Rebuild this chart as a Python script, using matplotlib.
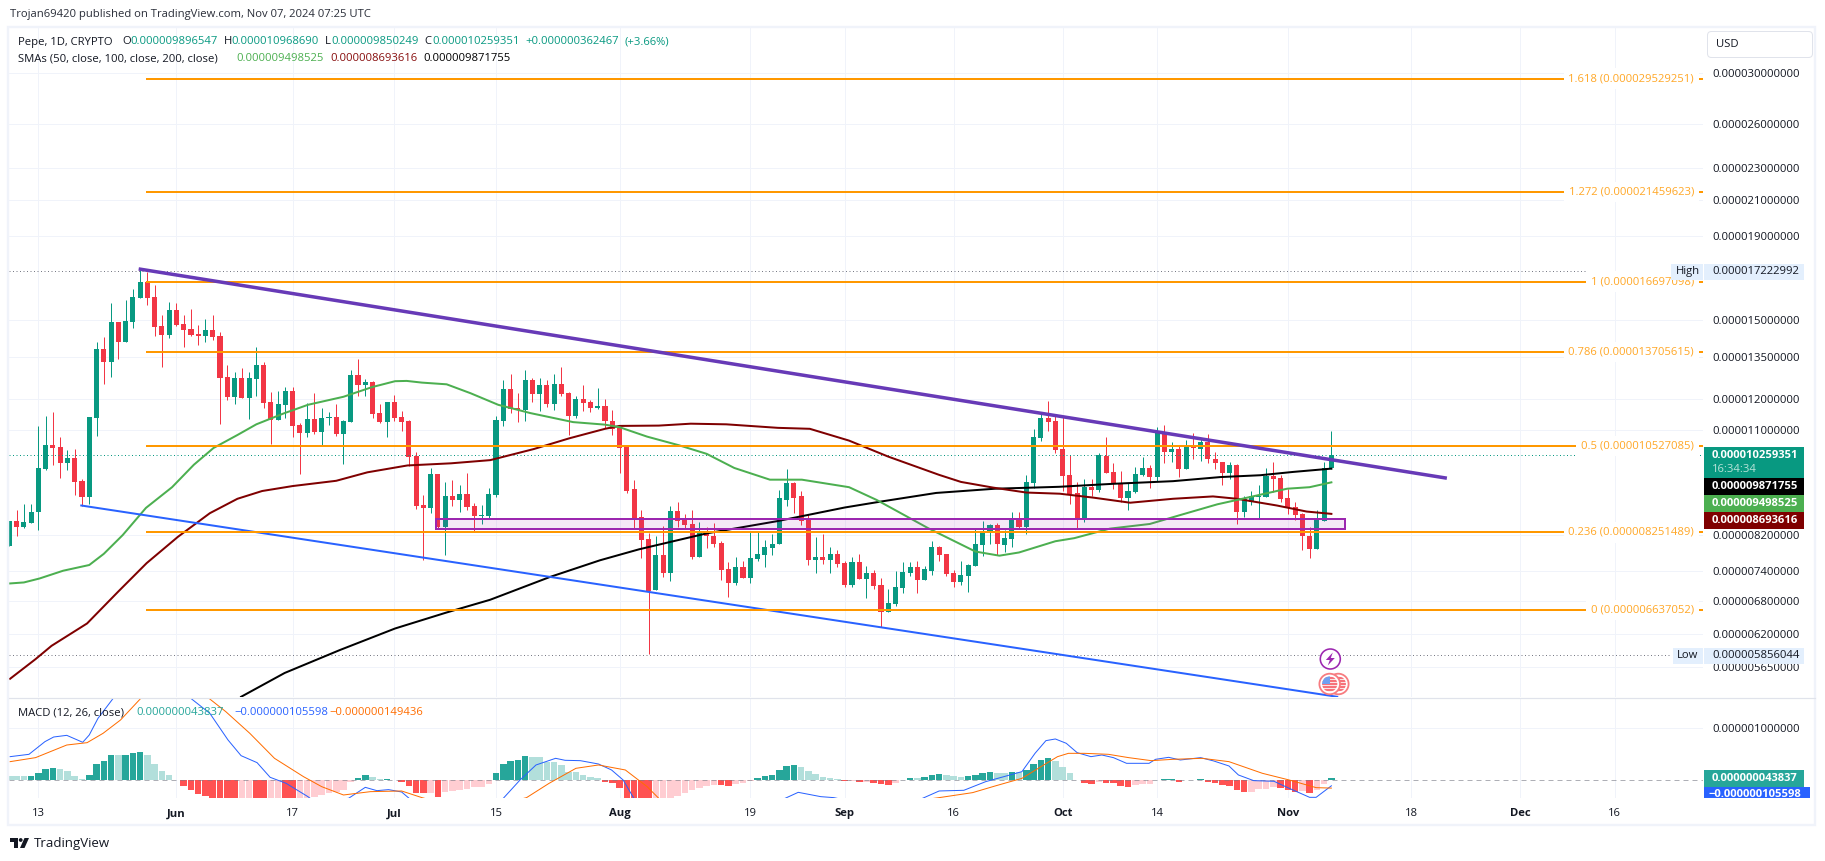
import matplotlib
matplotlib.use("Agg")
import matplotlib.pyplot as plt
import numpy as np
from matplotlib.patches import Rectangle, Circle, Polygon, FancyBboxPatch
from matplotlib.ticker import NullLocator, NullFormatter

plt.rcParams['font.family'] = ['Open Sans', 'DejaVu Sans']

# ---- data (prices in units of 1e-6 USD; days counted from 13 May 2024) ----
first_day = -4
opens = [7.94,8.52,8.38,8.47,8.73,9.87,10.55,10.50,10.02,10.17,9.54,9.12,11.38,13.82,13.33,14.91,14.09,14.91,15.96,16.69,
16.00,14.74,14.37,15.42,14.82,14.62,14.41,14.33,14.58,14.33,12.78,12.08,12.74,12.04,12.70,13.21,11.91,11.32,11.81,12.28,
11.16,10.91,11.35,10.94,11.39,11.41,10.88,11.26,12.85,12.49,12.60,11.54,11.26,11.91,11.41,11.29,10.24,8.91,8.84,9.73,
8.38,9.15,9.05,9.20,8.89,8.65,8.64,9.17,11.29,12.36,11.69,11.63,12.67,12.19,12.50,11.85,12.53,12.20,11.44,12.01,
11.91,11.71,11.78,11.30,11.05,10.50,9.31,8.62,8.10,7.02,7.74,7.36,8.76,8.54,8.44,7.70,8.23,8.18,8.00,7.44,
7.15,7.48,7.27,7.65,7.74,7.90,7.98,9.05,9.49,9.13,8.54,7.63,7.70,7.63,7.76,7.58,7.11,7.60,7.23,7.36,
7.11,6.60,6.75,7.06,7.36,7.48,7.21,7.41,7.92,7.76,7.36,7.17,7.30,7.51,7.96,8.23,8.42,7.97,8.10,8.55,
8.37,9.47,10.76,11.38,11.29,10.44,9.69,9.22,8.60,9.38,9.30,10.23,9.78,9.49,9.08,9.25,9.70,9.89,9.65,10.92,
10.35,10.43,9.86,10.49,10.43,10.65,10.15,10.05,9.76,9.97,8.73,8.99,9.12,9.12,9.67,9.62,9.09,8.86,8.68,8.18,
7.88,8.53,9.90]
closes = [8.52,8.39,8.50,8.74,9.90,10.55,10.47,10.02,10.17,9.52,9.12,11.41,13.82,13.33,14.91,14.09,14.95,16.00,16.69,15.96,
14.70,14.37,15.42,14.78,14.58,14.37,14.33,14.58,14.28,12.74,12.08,12.74,12.04,12.74,13.21,11.88,11.32,11.84,12.28,11.13,
10.91,11.35,10.94,11.38,11.41,10.88,11.29,12.85,12.49,12.60,11.51,11.26,11.91,11.38,11.26,10.20,8.89,8.84,9.73,8.38,
9.15,9.05,9.20,8.86,8.64,8.66,9.20,11.32,12.36,11.66,11.63,12.67,12.19,12.50,11.85,12.53,12.19,11.44,12.01,11.88,
11.71,11.78,11.27,11.02,10.47,9.28,8.60,8.07,7.00,7.74,7.36,8.76,8.51,8.42,7.70,8.23,8.16,7.98,7.42,7.15,
7.48,7.27,7.68,7.76,7.92,7.99,9.08,9.49,9.10,8.51,7.63,7.70,7.63,7.76,7.56,7.11,7.60,7.23,7.36,7.09,
6.60,6.76,7.07,7.39,7.48,7.21,7.44,7.92,7.74,7.34,7.17,7.32,7.53,7.98,8.26,8.43,7.98,8.13,8.55,8.37,
9.50,10.79,11.38,11.26,10.41,9.66,9.19,8.58,9.38,9.30,10.26,9.76,9.46,9.08,9.27,9.73,9.89,9.65,10.92,10.35,
10.43,9.86,10.49,10.46,10.65,10.13,10.03,9.76,9.97,8.73,9.07,9.15,9.15,9.67,9.59,9.07,8.83,8.66,8.16,7.88,
8.55,9.90,10.26]
highs = [8.52,8.79,8.94,8.94,11.13,11.45,11.57,10.79,10.39,10.43,9.59,11.41,14.09,14.28,15.72,14.91,15.87,16.35,17.25,17.17,
16.53,15.20,15.77,15.72,15.20,15.46,14.78,15.03,15.20,14.50,13.21,12.96,13.08,12.96,13.90,13.33,12.25,12.28,12.43,12.43,
11.23,11.88,12.21,11.70,11.57,11.84,11.32,13.03,13.44,12.71,12.64,11.84,11.91,12.15,11.61,11.32,10.35,9.17,9.90,9.73,
9.50,9.57,9.42,9.76,8.96,8.91,9.36,11.45,12.68,12.88,12.20,13.03,12.74,12.74,12.67,12.88,13.15,12.24,12.11,12.49,
11.98,12.39,12.01,11.63,11.11,10.56,9.55,8.78,8.25,8.18,8.40,8.88,9.00,8.70,8.78,8.49,8.37,8.47,8.05,7.59,
7.70,7.62,8.27,8.27,8.08,8.21,9.30,9.85,9.52,9.26,8.70,8.14,8.21,7.92,7.85,7.62,7.70,7.76,7.50,7.42,
7.27,7.03,7.40,7.59,7.59,7.62,7.50,8.05,7.94,7.76,7.42,7.62,7.55,8.35,8.51,8.44,8.47,8.30,8.73,8.75,
9.71,11.04,11.54,11.94,11.47,11.41,10.27,9.50,9.60,9.60,10.32,10.80,10.03,9.80,9.49,9.92,10.21,9.97,11.09,11.16,
10.64,10.56,10.70,10.92,10.74,10.88,10.34,10.07,10.07,10.00,9.13,9.28,9.43,9.90,10.07,9.70,9.33,8.99,8.71,8.37,
8.80,10.05,10.97]
lows = [7.94,8.17,8.35,8.47,8.30,9.83,9.96,9.62,9.84,9.17,8.89,8.94,10.82,12.53,12.78,13.44,14.09,14.66,15.96,15.65,
14.33,13.14,14.25,14.74,13.90,14.33,13.98,14.09,14.17,11.20,11.97,11.84,12.04,11.35,12.11,11.70,10.58,11.32,11.38,10.78,
9.73,10.78,10.88,10.55,11.16,10.82,10.01,11.26,12.11,12.11,11.38,11.23,10.80,11.29,10.97,9.95,8.81,7.64,8.72,8.34,
7.75,8.89,8.74,8.79,8.27,8.45,8.60,9.12,11.13,11.53,11.24,11.30,11.91,11.61,11.74,11.63,12.11,10.86,11.38,11.61,
11.58,11.68,11.05,10.86,9.74,9.22,8.32,7.67,5.86,7.02,7.28,7.19,8.37,8.32,7.65,7.70,7.90,7.91,7.21,6.88,
7.11,7.27,7.15,7.62,7.49,7.74,7.98,8.88,8.72,8.42,7.53,7.36,7.55,7.36,7.49,7.07,7.07,7.23,6.86,7.03,
6.32,6.60,6.71,6.96,7.30,6.97,7.21,7.33,7.62,7.30,7.07,7.11,6.98,7.51,7.73,7.99,7.74,7.80,7.93,8.32,
8.22,9.34,10.67,10.97,10.32,9.27,8.93,8.34,8.49,9.14,9.25,9.76,9.33,8.98,8.80,9.23,9.67,9.36,9.54,10.03,
10.07,9.65,9.86,10.13,10.09,10.03,9.86,9.42,9.59,8.44,8.62,8.91,8.58,9.12,9.24,8.99,8.68,8.54,7.85,7.69,
7.88,8.53,9.85]

sma50_days = [-3.9,-2,0.15,3.4,7,9,11.6,14.8,18.4,21.4,24.1,27.4,30,33.9,35,37.1,42,45.9,49.1,50.7,52.8,56.2,59.5,63.3,67.7,73.6,78,80,83.8,88.2,92,95.8,100.7,105.1,111.6,115.4,122.5,129,132.3,135,140,142.6,147.5,153,157.3,162.3,165,171.9,175,178]
sma50_vals = [7.15,7.17,7.25,7.41,7.53,7.77,8.19,8.84,9.37,9.98,10.46,10.85,11.18,11.54,11.63,11.81,12.08,12.41,12.62,12.63,12.57,12.51,12.20,11.81,11.54,11.25,11.17,11.09,10.80,10.54,10.29,9.89,9.57,9.57,9.37,9.04,8.35,7.82,7.73,7.80,8.05,8.12,8.34,8.45,8.67,8.93,9.04,9.33,9.37,9.4985]
sma100_days = [-3.9,-0.4,1.8,6.7,11,14.9,19.2,23.6,27.4,30.8,35,41,45.3,50.8,56.8,62.2,68.2,73.1,78,80,85.4,89.8,94.7,101.8,106.2,111.6,117,124,127,131.4,136,140.6,145.2,150.3,156.2,161.7,165,170.5,174.6,178]
sma100_vals = [5.47,5.78,6.00,6.39,6.99,7.57,8.15,8.71,9.07,9.27,9.40,9.54,9.77,9.96,10.02,10.11,10.43,10.75,11.04,11.13,11.14,11.20,11.18,11.07,11.04,10.68,10.21,9.70,9.51,9.36,9.23,9.20,9.10,8.97,9.07,9.13,9.07,8.90,8.75,8.6936]
sma200_days = [27.9,33.9,41.5,49.1,56.2,62.2,70.4,77.3,82.7,92,101.8,111,116,123.6,131.7,140.5,148,156.2,162.7,168.2,172.7,178]
sma200_vals = [5.20,5.56,5.93,6.30,6.59,6.83,7.28,7.63,7.87,8.23,8.52,8.85,9.00,9.22,9.33,9.38,9.46,9.53,9.64,9.69,9.78,9.8718]

fib_ratios = ["1.618","1.272","1","0.786","0.5","0.236","0"]
fib_levels = [29.529251,21.459623,16.697098,13.705615,10.527085,8.251489,6.637052]
fib_start_day = 14.8

purple_days = [13.8,193.9]
purple_vals = [17.30,9.61]
blue_days = [5.9,178.8]
blue_vals = [8.90,5.20]
zone_days = [54.8,179.9]
zone_vals = [8.33,8.57]

price_high = 17.222992
price_low = 5.856044
price_last = 10.259351

macd_hist = [.083,.082,.081,.085,.141,.212,.237,.212,.18,.083,.026,.103,.314,.372,.487,.48,.487,.526,.545,.487,
.314,.18,.103,.006,-.109,-.186,-.263,-.301,-.34,-.36,-.38,-.40,-.39,-.38,-.40,-.42,-.40,-.38,-.39,-.40,
-.37,-.345,-.327,-.282,-.244,-.218,-.186,-.026,.038,.103,.058,.019,.026,.006,-.026,-.109,-.237,-.25,-.24,-.314,
-.218,-.199,-.186,-.16,-.135,-.13,-.07,.141,.314,.365,.391,.468,.455,.442,.353,.35,.295,.16,.155,.103,
.07,.038,-.026,-.058,-.147,-.34,-.36,-.38,-.40,-.39,-.37,-.345,-.301,-.25,-.186,-.154,-.109,-.09,-.095,-.109,
-.064,-.06,-.006,.045,.083,.103,.199,.276,.295,.25,.18,.122,.058,.045,.026,-.019,-.006,-.026,-.026,-.058,
-.07,-.09,-.045,.006,.045,.045,.058,.109,.122,.103,.083,.064,.083,.109,.141,.16,.147,.147,.16,.158,
.199,.314,.391,.436,.378,.256,.147,.006,-.051,-.07,-.026,-.051,-.058,-.103,-.128,-.096,-.07,-.07,0.0,.019,
.026,-.026,.006,.006,.026,-.026,-.058,-.09,-.109,-.186,-.224,-.224,-.16,-.16,-.128,-.147,-.186,-.224,-.205,-.244,
-.186,-.07,.0438]
macd_days = [-3.9,-1.3,.9,2.1,3.9,6.1,7,8.2,10.4,20,20.8,23.6,26.1,27.9,30.1,31.9,34.1,37.1,38,42.7,45,46.6,48.2,50,51.3,58,64,66.3,68.5,71.2,72.5,74.6,77.1,78.9,80.5,82,92,102.8,104.6,107.7,109.5,111,116,121.2,124,127.4,130.4,132.9,135.4,137.2,138.7,140,141.5,143,144.9,146.4,148,149.8,152.9,153.8,155.6,157.2,160,161.8,163.9,165.2,167.3,170.1,172.2,175,175.9,178]
macd_vals = [.455,.5,.744,.833,.865,.731,.872,1.192,1.596,2.2,1.596,1.288,.776,.474,.34,.058,-.058,-.314,-.41,-.346,-.135,-.199,-.179,-.224,-.378,-.75,-.346,.006,.295,.423,.385,.378,.314,.199,.006,-.353,-.9,-.346,-.231,-.314,-.333,-.378,-.6,-.378,-.205,-.192,-.026,.07,.167,.519,.763,.795,.712,.532,.455,.487,.436,.327,.327,.404,.442,.391,.436,.372,.276,.103,-.006,-.019,-.154,-.327,-.327,-.1056]
signal_days = [-3.9,-.4,3.9,6.7,8.9,11.3,14.1,20,23.3,25.8,29.1,32.5,36.5,39,42,45.7,50,52.8,60,67.2,70.3,74,77.1,80.8,83.8,85.4,95,105,124,128.6,131.7,135.4,138.4,140.3,141.8,144,147.3,150.1,153.2,156.2,160.2,163.9,168.5,172.2,175.9,178]
signal_vals = [.359,.436,.679,.724,.904,1.16,1.577,2.1,1.596,1.32,.904,.423,.07,-.122,-.282,-.218,-.205,-.333,-.6,-.333,-.058,.231,.295,.199,-.122,-.346,-.8,-.7,-.333,-.237,-.109,.038,.295,.455,.519,.519,.5,.436,.378,.404,.423,.359,.135,.006,-.141,-.1494]

x_tick_days = [0,19,35,49,63,80,98,111,126,141,154,172,189,204,217]
x_tick_labels = ["13","Jun","17","Jul","15","Aug","19","Sep","16","Oct","14","Nov","18","Dec","16"]
bold_labels = {"Jun","Jul","Aug","Sep","Oct","Nov","Dec"}
price_ticks = [30,26,23,21,19,15,13.5,12,11,8.2,7.4,6.8,6.2,5.65]
macd_ticks = [1.0]

# ---- layout helpers ----
W, H = 1825, 861
fig = plt.figure(figsize=(W/100, H/100), dpi=100, facecolor='white')
def axes_px(x0, y0, x1, y1, **kw):
    return fig.add_axes([x0/W, 1-y1/H, (x1-x0)/W, (y1-y0)/H], **kw)
PX = 0.72
GRID = '#f0f3fa'
UP, DOWN = '#089981', '#f23645'
ORANGE = '#ff9800'
FS = 11.2
days = np.arange(first_day, first_day+len(opens))
xlim = (-4.05, 229.16)

# ---- price pane ----
ax = axes_px(9, 28, 1703, 697)
ax.set_yscale('log')
ax.set_xlim(*xlim)
ax.set_ylim(5.197, 34.04)
ax.yaxis.set_minor_locator(NullLocator())
ax.yaxis.set_minor_formatter(NullFormatter())
ax.set_yticks(price_ticks)
ax.set_yticklabels([f"{v*1e-6:.12f}" for v in price_ticks])
ax.yaxis.tick_right()
ax.tick_params(axis='y', length=0, pad=6.4, labelsize=FS*PX, labelcolor='#131722')
ax.set_xticks(x_tick_days)
ax.tick_params(axis='x', length=0, labelbottom=False)
ax.grid(True, color=GRID, lw=1*PX, zorder=0)
ax.set_axisbelow(True)
for s in ax.spines.values():
    s.set_visible(False)

o, c, hi, lo = map(np.array, (opens, closes, highs, lows))
up = c >= o
cols = np.where(up, UP, DOWN)
ax.vlines(days, lo, hi, colors=cols, lw=1*PX, zorder=2)
ax.bar(days, np.abs(c-o), bottom=np.minimum(o, c), width=0.7, color=cols, lw=0, zorder=3)

ax.plot(sma200_days, sma200_vals, color='#000000', lw=2*PX, zorder=4)
ax.plot(sma100_days, sma100_vals, color='#7f0000', lw=2*PX, zorder=4)
ax.plot(sma50_days, sma50_vals, color='#4caf50', lw=2*PX, zorder=4)

ax.plot(xlim, [price_last]*2, color=UP, lw=1*PX, ls=(0, (1, 2.5)), zorder=3)
ax.plot([xlim[0], 224.7], [price_high]*2, color='#787b86', lw=1*PX, ls=(0, (1, 2.5)), zorder=3)
ax.plot([xlim[0], 224.7], [price_low]*2, color='#787b86', lw=1*PX, ls=(0, (1, 2.5)), zorder=3)

ax.add_patch(Rectangle((zone_days[0], zone_vals[0]), zone_days[1]-zone_days[0], zone_vals[1]-zone_vals[0],
                       facecolor=(0.612, 0.153, 0.69, 0.1), edgecolor='#9c27b0', lw=2*PX, zorder=5))
ax.plot(blue_days, blue_vals, color='#2962ff', lw=2*PX, zorder=5)
ax.plot(purple_days, purple_vals, color='#673ab7', lw=3.5*PX, zorder=6, solid_capstyle='butt')
trans = ax.get_yaxis_transform()
for r, v in zip(fib_ratios, fib_levels):
    ax.plot([fib_start_day, xlim[1]], [v, v], color=ORANGE, lw=2*PX, zorder=5, solid_capstyle='butt')
    ax.text(0.9947, v, f"{r} ({v*1e-6:.12f})", transform=trans, ha='right', va='center', color='#ffa726',
            fontsize=FS*PX, zorder=6, bbox=dict(facecolor='white', edgecolor='none', pad=3.4))

# ---- MACD pane ----
mx = axes_px(9, 698, 1703, 798)
mx.set_xlim(*xlim)
mx.set_ylim(-0.34, 1.583)
mx.set_yticks(macd_ticks)
mx.set_yticklabels([f"{v*1e-6:.12f}" for v in macd_ticks])
mx.yaxis.tick_right()
mx.tick_params(axis='y', length=0, pad=6.4, labelsize=FS*PX, labelcolor='#131722')
mx.set_xticks(x_tick_days)
mx.set_xticklabels(x_tick_labels)
for t, s in zip(mx.get_xticklabels(), x_tick_labels):
    t.set_fontweight('bold' if s in bold_labels else 'normal')
mx.tick_params(axis='x', length=0, pad=7.5, labelsize=FS*PX, labelcolor='#131722')
mx.grid(True, color=GRID, lw=1*PX)
mx.set_axisbelow(True)
for s in mx.spines.values():
    s.set_visible(False)
hist = np.array(macd_hist)
prev = np.r_[hist[0]+0.001, hist[:-1]]
hcols = np.where(hist >= 0, np.where(hist > prev, '#26a69a', '#b2dfdb'),
                 np.where(hist < prev, '#ff5252', '#ffcdd2'))
mx.bar(days, hist, width=0.9, color=hcols, lw=0, zorder=2)
mx.axhline(0, color='#787b86', lw=1*PX, ls=(0, (5, 4)), alpha=0.6, zorder=3)
mx.plot(macd_days, macd_vals, color='#2962ff', lw=1*PX, zorder=4)
mx.plot(signal_days, signal_vals, color='#ff6d00', lw=1*PX, zorder=4)

# ---- overlay: frame, legends, price tags, icons ----
ov = fig.add_axes([0, 0, 1, 1], zorder=10, facecolor='none')
ov.set_xlim(0, W)
ov.set_ylim(H, 0)
ov.axis('off')
FRAME = '#f0f3fa'
ov.add_patch(Rectangle((8, 27), 1807, 798, fill=False, edgecolor=FRAME, lw=2.4*PX))
ov.plot([9, 1815], [697.5, 697.5], color='#e0e3eb', lw=1.2*PX)

def txt(x, y, s, color='#131722', size=FS, **kw):
    return ov.text(x, y, s, color=color, fontsize=size*PX, va='center', ha=kw.pop('ha', 'left'), **kw)

txt(10, 15, "Trojan69420 published on TradingView.com, Nov 07, 2024 07:25 UTC", '#2a2e39', FS)
TEAL = '#089981'
txt(18, 42, "Pepe, 1D, CRYPTO", '#131722')
for x, s in [(122.5, "O"), (224, "H"), (325, "L"), (424, "C")]:
    txt(x, 42, s)
for x, s in [(130.5, "0.000009896547"), (231.7, "0.000010968690"), (331, "0.000009850249"),
             (432, "0.000010259351"), (525, "+0.000000362467"), (625, "(+3.66%)")]:
    txt(x, 42, s, TEAL)
txt(18, 58.7, "SMAs (50, close, 100, close, 200, close)")
txt(236.5, 58.7, "0.000009498525", '#4caf50')
txt(330, 58.7, "0.000008693616", '#880e0e')
txt(423.5, 58.7, "0.000009871755", '#000000')
txt(18, 712.7, "MACD (12, 26, close)")
txt(136, 712.7, "0.000000043837", '#26a69a')
txt(234, 712.7, "\u22120.000000105598", '#2962ff')
txt(329.5, 712.7, "\u22120.000000149436", '#ff6d00')

ov.add_patch(FancyBboxPatch((1709, 33), 102, 23, boxstyle="round,pad=1.5,rounding_size=4",
                            facecolor='white', edgecolor='#e0e3eb', lw=1*PX))
txt(1716, 44.5, "USD", '#131722', FS)

TAG_L, TAG_R, TAG_T = 1703.8, 1803.8, 1712
def tag(y0, y1, fc, s, tc='white', right=TAG_R):
    ov.add_patch(Rectangle((TAG_L, y0), right-TAG_L, y1-y0, facecolor=fc, edgecolor='none'))
    if s:
        txt(TAG_T, (y0+y1)/2+0.2, s, tc, fontweight='bold' if tc == 'white' else 'normal')

tag(447, 478, '#089981', "")
txt(TAG_T, 455.7, "0.000010259351", 'white', fontweight='bold')
txt(TAG_T, 469.7, "16:34:34", '#b8e3d9')
tag(478, 495, '#000000', "0.000009871755")
tag(495, 512, '#4caf50', "0.000009498525")
tag(512, 528.6, '#7f0000', "0.000008693616")
LBL = '#e3effd'
for yc, name, val in [(271.7, "High", "0.000017222992"), (655.7, "Low", "0.000005856044")]:
    tag(yc-8, yc+8, LBL, val, '#131722')
    ov.add_patch(Rectangle((1671.5 if name == "High" else 1673, yc-8), (31.5 if name == "High" else 30), 16,
                           facecolor=LBL, edgecolor='none'))
    txt(1687.5 if name == "High" else 1688, yc, name, '#131722', ha='center')
tag(770, 787.3, '#26a69a', "0.000000043837")
tag(787.3, 798, '#2962ff', "", right=1810)
mtag = txt(1709, 794.5, "\u22120.000000105598", 'white', fontweight='bold')
mtag.set_clip_path(Rectangle((TAG_L, 787.3), 107, 10.7, transform=ov.transData))

# economic-event icons
ov.add_patch(Circle((1330.3, 659), 10, facecolor='white', edgecolor='#9c27b0', lw=1.6*PX))
bolt = [(2.5,-6.5),(-4.5,1),(-0.5,1),(-2.5,6.5),(4.5,-1),(0.5,-1)]
ov.add_patch(Polygon([(1330.3+a, 659+b) for a, b in bolt], facecolor='#9c27b0', edgecolor='none'))
for cx in (1338.3, 1329.7):
    ov.add_patch(Circle((cx, 684), 10.3, facecolor='white', edgecolor='#f77c80', lw=1.8*PX))
    inner = Circle((cx, 684), 7.6, facecolor='#fbe3e4', edgecolor='none')
    ov.add_patch(inner)
    for k in range(-2, 3):
        st = Rectangle((cx-8, 684+k*3-0.8), 16, 1.7, facecolor='#f7727a', edgecolor='none')
        ov.add_patch(st)
        st.set_clip_path(inner)
    cn = Rectangle((cx-8, 676), 8, 7.5, facecolor='#6f9ff0', edgecolor='none')
    ov.add_patch(cn)
    cn.set_clip_path(inner)

# logo
ov.add_patch(Polygon([(10, 838), (18, 838), (18, 848), (14, 848), (14, 842), (10, 842)], facecolor='#131722'))
ov.add_patch(Circle((20.7, 840), 1.9, facecolor='#131722'))
ov.add_patch(Polygon([(24.5, 838), (29, 838), (24.5, 848), (20, 848)], facecolor='#131722'))
txt(33.5, 843, "TradingView", '#131722', 13.2)

fig.savefig('out.png', dpi=100)
